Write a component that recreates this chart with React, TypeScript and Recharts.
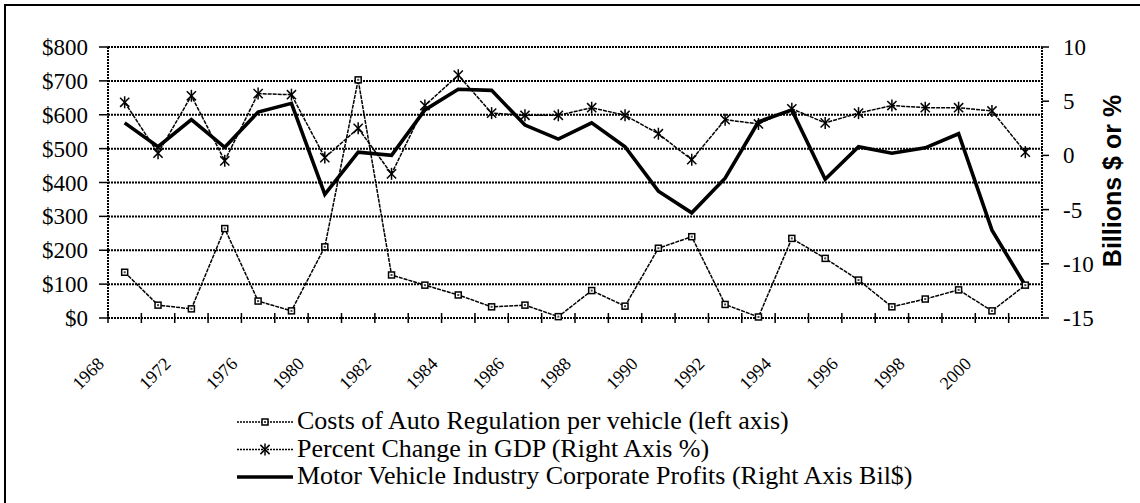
import React from 'react';
import { LineChart, Line, XAxis, YAxis, CartesianGrid, Legend } from 'recharts';

const years = ['1968','1970','1972','1974','1976','1978','1980','1981','1982','1983','1984','1985','1986','1987','1988','1989','1990','1991','1992','1993','1994','1995','1996','1997','1998','1999','2000','2001'];
const regCosts = [135, 38, 27, 264, 50, 21, 210, 703, 127, 97, 68, 33, 38, 4, 81, 35, 206, 240, 40, 3, 235, 176, 112, 33, 56, 83, 21, 97];
const gdpChange = [4.9, 0.2, 5.5, -0.5, 5.7, 5.6, -0.2, 2.5, -1.7, 4.6, 7.4, 3.9, 3.7, 3.7, 4.4, 3.7, 2.0, -0.4, 3.3, 2.9, 4.3, 3.0, 3.9, 4.6, 4.4, 4.4, 4.1, 0.3];
const profits = [3.0, 0.8, 3.3, 0.75, 4.0, 4.8, -3.6, 0.3, 0.0, 4.2, 6.1, 6.0, 2.8, 1.5, 3.0, 0.8, -3.3, -5.3, -2.1, 3.1, 4.2, -2.2, 0.8, 0.2, 0.7, 2.0, -6.9, -12.0];
const leftTicks = [0, 100, 200, 300, 400, 500, 600, 700, 800];
const rightTicks = [-15, -10, -5, 0, 5, 10];
const seriesNames = [
  'Costs of Auto Regulation per vehicle (left axis)',
  'Percent Change in GDP (Right Axis %)',
  'Motor Vehicle Industry Corporate Profits (Right Axis Bil$)',
];

const data = years.map((y, i) => ({ year: y, cost: regCosts[i], gdp: gdpChange[i], profit: profits[i] }));

const W = 1140;
const H = 503;
const LEFT_W = 108;
const RIGHT_W = 98;
const TOP = 47;
const PLOT_BOTTOM = 318;
const X_H = 60;
const STEP = (W - LEFT_W - RIGHT_W) / years.length;
const SERIF = 'Liberation Serif, Times New Roman, Times, serif';
const DOT = '2 1';

const XTick = (props: any) => {
  const { x, y, payload, index } = props;
  const half = STEP / 2;
  const ax = x - 19.5;
  const ay = y + 47;
  return (
    <g>
      <line x1={x - half} x2={x - half} y1={y - 5} y2={y + 5} stroke="#000" strokeWidth={1.5} />
      {index % 2 === 0 && (
        <text x={ax} y={ay} transform={`rotate(-45, ${ax}, ${ay})`} textAnchor="end" fontSize={18} fontFamily={SERIF} fill="#000">
          {payload.value}
        </text>
      )}
    </g>
  );
};

const LeftTick = (props: any) => {
  const { x, y, payload } = props;
  return (
    <text x={x} y={y + 8} textAnchor="end" fontSize={23} fontFamily={SERIF} fill="#000">
      {`$${payload.value}`}
    </text>
  );
};

const RightTick = (props: any) => {
  const { x, y, payload } = props;
  return (
    <text x={x} y={y + 8} textAnchor="start" fontSize={23} fontFamily={SERIF} fill="#000">
      {payload.value}
    </text>
  );
};

const SquareDot = (props: any) => {
  const { cx, cy, index } = props;
  if (cx == null || cy == null) return null;
  return (
    <g key={`sq-${index}`}>
      <rect x={cx - 3} y={cy - 3} width={6} height={6} fill="#fff" stroke="#000" strokeWidth={1.5} />
      <rect x={cx - 1} y={cy - 1} width={2} height={2} fill="#444" />
    </g>
  );
};

const StarDot = (props: any) => {
  const { cx, cy, index } = props;
  if (cx == null || cy == null) return null;
  const r = 6;
  const d = 4.6;
  return (
    <g key={`st-${index}`} stroke="#000" strokeWidth={1.5}>
      <line x1={cx} x2={cx} y1={cy - r} y2={cy + r} />
      <line x1={cx - d} x2={cx + d} y1={cy - d} y2={cy + d} />
      <line x1={cx - d} x2={cx + d} y1={cy + d} y2={cy - d} />
    </g>
  );
};

const LegendContent = () => {
  const rows = [22, 49.5, 77];
  return (
    <svg width={860} height={95} style={{ display: 'block' }}>
      <line x1={7} x2={63} y1={rows[0]} y2={rows[0]} stroke="#000" strokeWidth={1.5} strokeDasharray={DOT} />
      <rect x={32} y={rows[0] - 3} width={6} height={6} fill="#fff" stroke="#000" strokeWidth={1.5} />
      <rect x={34} y={rows[0] - 1} width={2} height={2} fill="#444" />
      <line x1={7} x2={63} y1={rows[1]} y2={rows[1]} stroke="#000" strokeWidth={1.5} strokeDasharray={DOT} />
      <g stroke="#000" strokeWidth={1.5}>
        <line x1={35} x2={35} y1={rows[1] - 6} y2={rows[1] + 6} />
        <line x1={30.4} x2={39.6} y1={rows[1] - 4.6} y2={rows[1] + 4.6} />
        <line x1={30.4} x2={39.6} y1={rows[1] + 4.6} y2={rows[1] - 4.6} />
      </g>
      <line x1={7} x2={63} y1={rows[2]} y2={rows[2]} stroke="#000" strokeWidth={3.6} />
      {seriesNames.map((n, i) => (
        <text key={n} x={67} y={rows[i] + 7} fontSize={26} fontFamily={SERIF} fill="#000">{n}</text>
      ))}
    </svg>
  );
};

const RightTitle = () => (
  <text
    x={1121}
    y={181}
    transform="rotate(-90, 1121, 181)"
    textAnchor="middle"
    fontSize={25}
    fontWeight="bold"
    fontFamily="Liberation Sans, Arial, sans-serif"
    fill="#000"
  >
    Billions $ or %
  </text>
);

export default function App() {
  return (
    <div style={{ position: 'absolute', left: 0, top: 0, width: W, height: H, overflow: 'hidden', background: '#fff' }}>
      <LineChart
        width={W}
        height={H}
        data={data}
        margin={{ top: TOP, right: 0, left: 0, bottom: H - PLOT_BOTTOM - X_H }}
      >
        <CartesianGrid yAxisId="left" horizontal vertical={false} stroke="#000" strokeWidth={2} strokeDasharray={DOT} />
        <XAxis
          dataKey="year"
          interval={0}
          height={X_H}
          padding={{ left: STEP / 2, right: STEP / 2 }}
          tickSize={0}
          tickMargin={0}
          tickLine={false}
          axisLine={{ stroke: '#000', strokeWidth: 2, strokeDasharray: DOT }}
          tick={<XTick />}
        />
        <YAxis
          yAxisId="left"
          orientation="left"
          width={LEFT_W}
          domain={[0, 800]}
          ticks={leftTicks}
          interval={0}
          tickSize={9}
          tickMargin={11}
          tickLine={{ stroke: '#000', strokeWidth: 1.5 }}
          axisLine={{ stroke: '#000', strokeWidth: 2, strokeDasharray: DOT }}
          tick={<LeftTick />}
        />
        <YAxis
          yAxisId="right"
          orientation="right"
          width={RIGHT_W}
          domain={[-15, 10]}
          ticks={rightTicks}
          interval={0}
          tickSize={7}
          tickMargin={14}
          tickLine={{ stroke: '#000', strokeWidth: 1.5 }}
          axisLine={{ stroke: '#000', strokeWidth: 2, strokeDasharray: DOT }}
          tick={<RightTick />}
          label={<RightTitle />}
        />
        <Legend
          layout="vertical"
          align="center"
          verticalAlign="middle"
          wrapperStyle={{ position: 'absolute', left: 230, top: 400, width: 860, height: 95 }}
          content={<LegendContent />}
        />
        <Line
          yAxisId="left"
          dataKey="cost"
          name={seriesNames[0]}
          stroke="#000"
          strokeWidth={1.5}
          strokeDasharray="4 1"
          dot={<SquareDot />}
          isAnimationActive={false}
        />
        <Line
          yAxisId="right"
          dataKey="gdp"
          name={seriesNames[1]}
          stroke="#000"
          strokeWidth={1.5}
          strokeDasharray="4 1"
          dot={<StarDot />}
          isAnimationActive={false}
        />
        <Line
          yAxisId="right"
          dataKey="profit"
          name={seriesNames[2]}
          stroke="#000"
          strokeWidth={3.6}
          dot={false}
          isAnimationActive={false}
        />
      </LineChart>
      <div
        style={{
          position: 'absolute',
          left: 4,
          top: 4,
          width: W,
          height: H,
          borderTop: '2px solid #000',
          borderLeft: '2px solid #000',
          pointerEvents: 'none',
        }}
      />
    </div>
  );
}
